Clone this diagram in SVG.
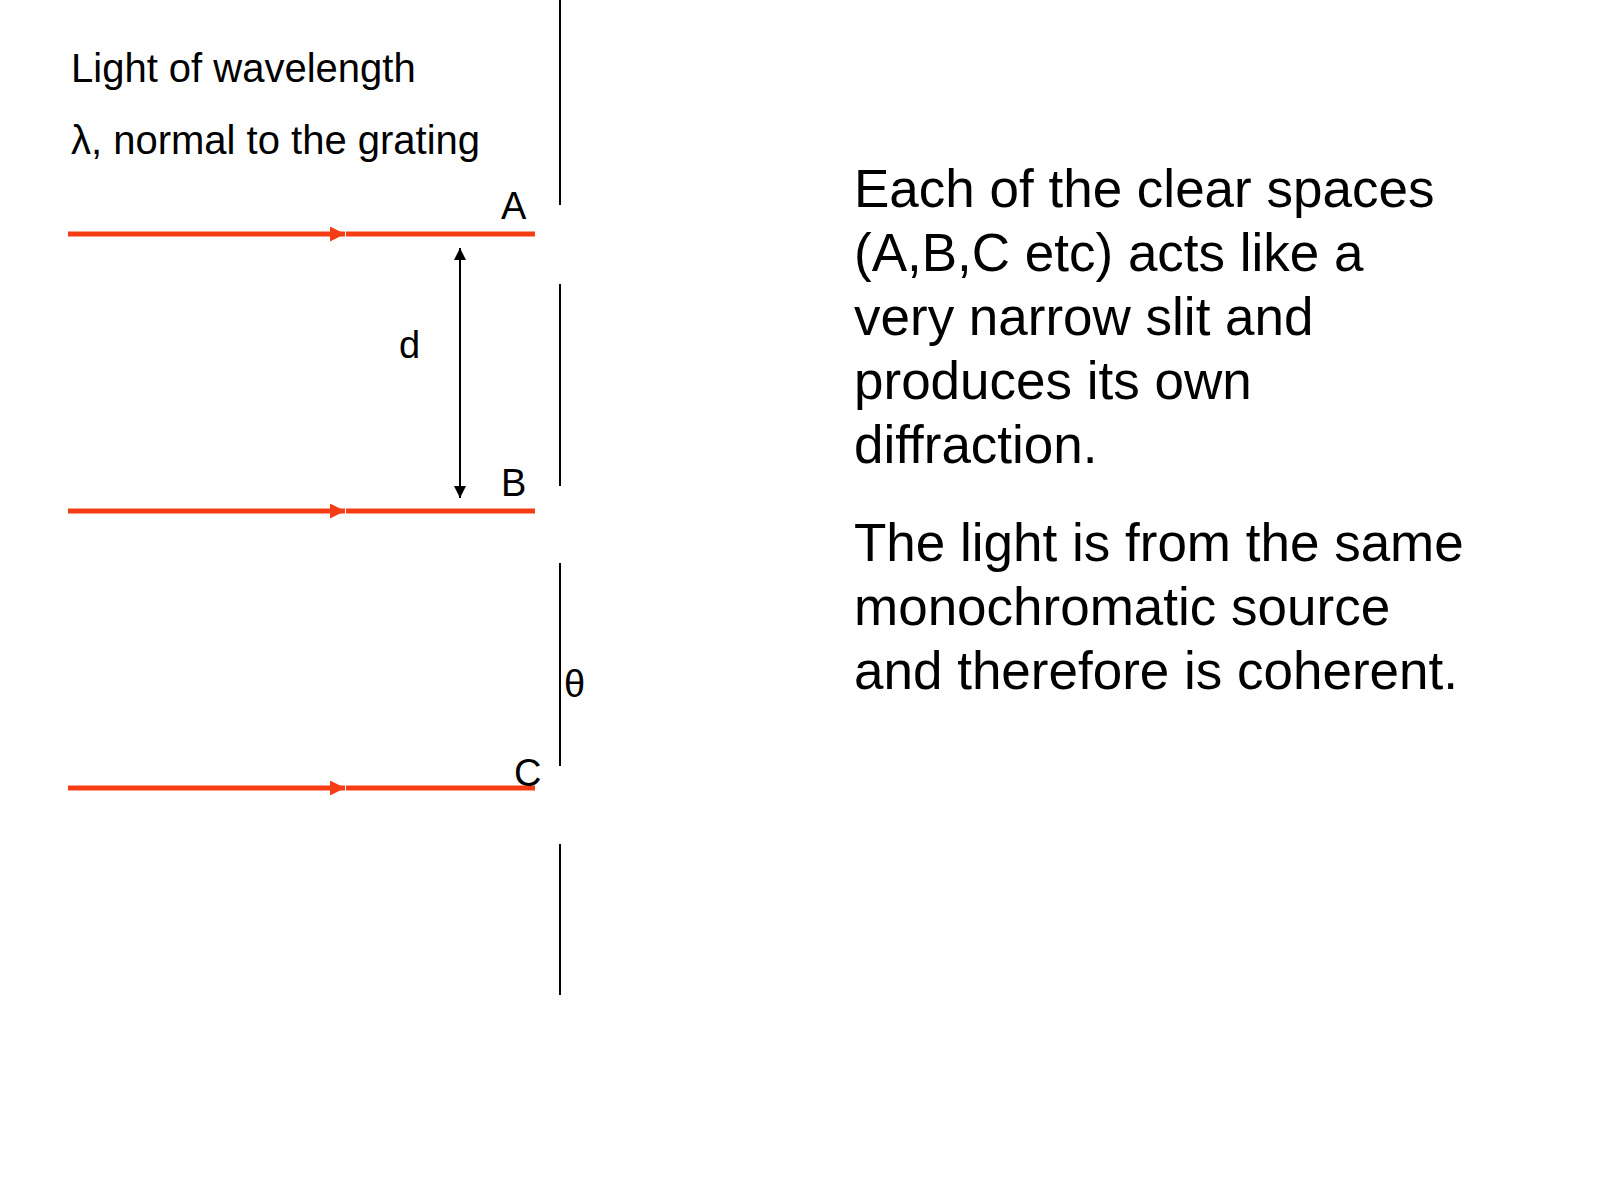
<svg xmlns="http://www.w3.org/2000/svg" width="1600" height="1200" viewBox="0 0 1600 1200">
<style>
text{font-family:"Liberation Sans",Arial,sans-serif;fill:#000}
.small{font-size:40px}
.lbl{font-size:38px}
.big{font-size:53px}
.ray{stroke:#f53c14;stroke-width:5;fill:none}
.grat{stroke:#000;stroke-width:2;fill:none}
.dim{stroke:#000;stroke-width:2;fill:none}
</style>
<defs>
<marker id="redhead" viewBox="0 0 10 10" refX="10" refY="5" markerWidth="17" markerHeight="15" markerUnits="userSpaceOnUse" orient="auto">
<path d="M0,0 L10,5 L0,10 z" fill="#f53c14"/>
</marker>
<marker id="blackhead" viewBox="0 0 10 10" refX="10" refY="5" markerWidth="14" markerHeight="12" markerUnits="userSpaceOnUse" orient="auto-start-reverse">
<path d="M0,0 L10,5 L0,10 z" fill="#000"/>
</marker>
</defs>
<rect width="1600" height="1200" fill="#fff"/>
<g id="caption">
<text class="small" x="71" y="82">Light of wavelength</text>
<text class="small" x="71" y="154">λ, normal to the grating</text>
</g>
<g id="grating">
<line class="grat" x1="560" y1="0" x2="560" y2="205"/>
<line class="grat" x1="560" y1="284" x2="560" y2="486"/>
<line class="grat" x1="560" y1="563" x2="560" y2="766"/>
<line class="grat" x1="560" y1="844" x2="560" y2="995"/>
</g>
<g id="connectors">
<line class="ray" x1="68" y1="234" x2="345" y2="234" marker-end="url(#redhead)"/>
<line class="ray" x1="346" y1="234" x2="535" y2="234"/>
<line class="ray" x1="68" y1="511" x2="345" y2="511" marker-end="url(#redhead)"/>
<line class="ray" x1="346" y1="511" x2="535" y2="511"/>
<line class="ray" x1="68" y1="788" x2="345" y2="788" marker-end="url(#redhead)"/>
<line class="ray" x1="346" y1="788" x2="535" y2="788"/>
<line class="dim" x1="460" y1="248" x2="460" y2="498" marker-start="url(#blackhead)" marker-end="url(#blackhead)"/>
</g>
<g id="labelA"><text class="lbl" x="501" y="219">A</text></g>
<g id="labelB"><text class="lbl" x="501" y="496">B</text></g>
<g id="labelC"><text class="lbl" x="514" y="786">C</text></g>
<g id="labelD"><text class="lbl" x="399" y="358">d</text></g>
<g id="labelTheta"><text class="lbl" x="564" y="697">θ</text></g>
<g id="explanation">
<text class="big" x="854" y="207">Each of the clear spaces</text>
<text class="big" x="854" y="271">(A,B,C etc) acts like a</text>
<text class="big" x="854" y="335">very narrow slit and</text>
<text class="big" x="854" y="399">produces its own</text>
<text class="big" x="854" y="463">diffraction.</text>
<text class="big" x="854" y="561">The light is from the same</text>
<text class="big" x="854" y="625">monochromatic source</text>
<text class="big" x="854" y="689">and therefore is coherent.</text>
</g>
</svg>
